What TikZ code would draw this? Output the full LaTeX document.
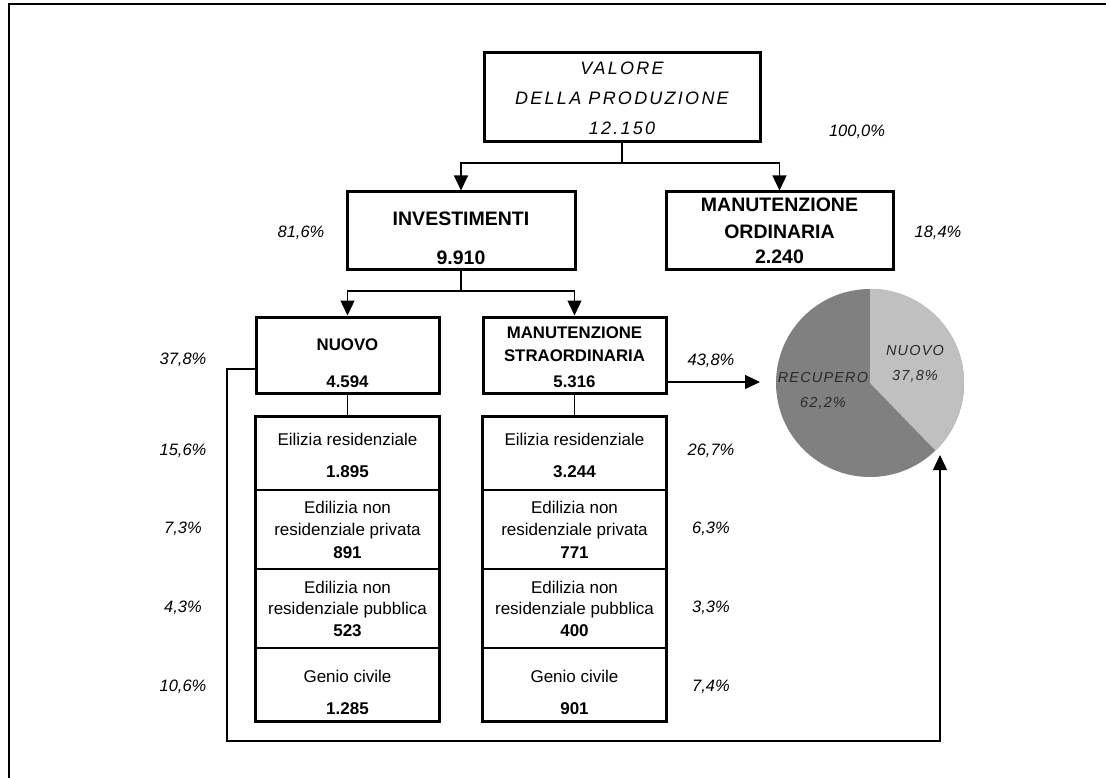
\documentclass[tikz,border=0pt]{standalone}
\usepackage{fontspec}
\setmainfont{Liberation Sans}
\newfontfamily\valfont[LetterSpace=12.5]{Liberation Sans}
\newfontfamily\piefont[LetterSpace=8]{Liberation Sans}
\usetikzlibrary{arrows.meta,calc}
\definecolor{pielight}{HTML}{C0C0C0}
\definecolor{piedark}{HTML}{808080}
\definecolor{pietext}{HTML}{2A2A2A}
\begin{document}
\begin{tikzpicture}[x=1pt,y=-1pt,
  bigbox/.style={draw, line width=3pt, inner sep=0pt},
  rowbox/.style={draw, line width=1.3pt, inner sep=0pt, minimum width=183pt},
  conn/.style={line width=1.3pt},
  arr/.style={conn, -{Triangle[length=15pt,width=14pt]}},
  txt/.style={inner sep=0pt, anchor=base},
  pct/.style={txt, font=\fontsize{16.5}{19}\selectfont\itshape},
  boldA/.style={txt, font=\fontsize{19.5}{22}\selectfont\bfseries},
  boldB/.style={txt, font=\fontsize{16.8}{20}\selectfont\bfseries},
  reg/.style={txt, font=\fontsize{17}{20}\selectfont},
  regb/.style={txt, font=\fontsize{17}{20}\selectfont\bfseries},
  valt/.style={txt, font=\valfont\fontsize{18}{21}\selectfont\itshape},
  piet/.style={txt, text=pietext, font=\piefont\fontsize{14.5}{17}\selectfont\itshape}
]
\fill[white] (0,0) rectangle (1106,778);
\useasboundingbox (0,0) rectangle (1106,778);

% frame
\draw[line width=2pt] (9,790) -- (9,4) -- (1120,4);

% main boxes
\node[bigbox, minimum width=276pt, minimum height=89pt] (val) at (622,97.5) {};
\node[bigbox, minimum width=228pt, minimum height=78pt] (inv) at (461,231) {};
\node[bigbox, minimum width=227pt, minimum height=78pt] (mo) at (779.5,231) {};
\node[bigbox, minimum width=183pt, minimum height=76pt] (nuo) at (347.5,355) {};
\node[bigbox, minimum width=183pt, minimum height=76pt] (ms) at (574.5,355) {};

% row boxes
\node[rowbox, minimum height=73pt] (nl1) at (347.5,453.5) {};
\node[rowbox, minimum height=79pt] (nl2) at (347.5,529.5) {};
\node[rowbox, minimum height=79pt] (nl3) at (347.5,608.5) {};
\node[rowbox, minimum height=73pt] (nl4) at (347.5,684.5) {};
\node[rowbox, minimum height=73pt] (nr1) at (574.5,453.5) {};
\node[rowbox, minimum height=79pt] (nr2) at (574.5,529.5) {};
\node[rowbox, minimum height=79pt] (nr3) at (574.5,608.5) {};
\node[rowbox, minimum height=73pt] (nr4) at (574.5,684.5) {};
\draw[line width=3pt] (nl1.north west) rectangle (nl4.south east);
\draw[line width=3pt] (nr1.north west) rectangle (nr4.south east);

% pie
\node[circle, fill=piedark, minimum size=188pt, inner sep=0pt] (pie) at (870,383) {};
\fill[pielight] (pie.center) -- (pie.north) arc[start angle=-90, end angle=46, radius=94] -- cycle;

% connectors
\coordinate (vj) at (622,163);
\draw[conn] (val.south) -- (vj);
\draw[arr] (vj) -| (inv.north);
\draw[arr] (vj) -| (mo.north);
\coordinate (ij) at (461,291);
\draw[conn] (inv.south) -- (ij);
\draw[arr] (ij) -| (nuo.north);
\draw[arr] (ij) -| (ms.north);
\draw[conn] (nuo.south) -- (nl1.north);
\draw[conn] (ms.south) -- (nr1.north);
\coordinate (msa) at (666,382);
\coordinate (piel) at (760,382);
\draw[arr] (msa) -- (piel);
\coordinate (nuol) at (256,369);
\coordinate (lpa) at (227,369);
\coordinate (lpb) at (227,741);
\coordinate (lpc) at (940,741);
\coordinate (pieb) at (940,455);
\draw[arr] (nuol) -- (lpa) -- (lpb) -- (lpc) -- (pieb);

% texts
\node[valt] (val-a) at (622,74.8) {VALORE};
\node[valt] (val-b) at (622,104.8) {DELLA PRODUZIONE};
\node[valt] (val-c) at (622,134.8) {12.150};
\node[pct] (p-tot) at (857,136.9) {100,0\%};

\node[boldA] (inv-a) at (461,225.3) {INVESTIMENTI};
\node[boldA] (inv-b) at (461,264.3) {9.910};
\node[pct] (p-inv) at (301,237.6) {81,6\%};

\node[boldA] (mo-a) at (779.5,212) {MANUTENZIONE};
\node[boldA] (mo-b) at (779.5,238.7) {ORDINARIA};
\node[boldA] (mo-c) at (779.5,263.7) {2.240};
\node[pct] (p-mo) at (938,237.9) {18,4\%};

\node[boldB] (nuo-a) at (347.5,350.3) {NUOVO};
\node[boldB] (nuo-b) at (347.5,387.7) {4.594};
\node[pct] (p-nuo) at (183,364.9) {37,8\%};

\node[boldB] (ms-a) at (574.5,338.7) {MANUTENZIONE};
\node[boldB] (ms-b) at (574.5,361) {STRAORDINARIA};
\node[boldB] (ms-c) at (574.5,387.7) {5.316};
\node[pct] (p-ms) at (711,365.9) {43,8\%};

% left rows
\node[reg] (nl1-a) at (347.5,445.1) {Eilizia residenziale};
\node[regb] (nl1-b) at (347.5,477.8) {1.895};
\node[reg] (nl2-a) at (347.5,513.1) {Edilizia non};
\node[reg] (nl2-b) at (347.5,535.1) {residenziale privata};
\node[regb] (nl2-c) at (347.5,558.1) {891};
\node[reg] (nl3-a) at (347.5,593.1) {Edilizia non};
\node[reg] (nl3-b) at (347.5,614.1) {residenziale pubblica};
\node[regb] (nl3-c) at (347.5,636.1) {523};
\node[reg] (nl4-a) at (347.5,682.1) {Genio civile};
\node[regb] (nl4-b) at (347.5,714.1) {1.285};

% right rows
\node[reg] (nr1-a) at (574.5,445.1) {Eilizia residenziale};
\node[regb] (nr1-b) at (574.5,477.8) {3.244};
\node[reg] (nr2-a) at (574.5,513.1) {Edilizia non};
\node[reg] (nr2-b) at (574.5,535.1) {residenziale privata};
\node[regb] (nr2-c) at (574.5,558.1) {771};
\node[reg] (nr3-a) at (574.5,593.1) {Edilizia non};
\node[reg] (nr3-b) at (574.5,614.1) {residenziale pubblica};
\node[regb] (nr3-c) at (574.5,636.1) {400};
\node[reg] (nr4-a) at (574.5,682.1) {Genio civile};
\node[regb] (nr4-b) at (574.5,714.1) {901};

% row percentages
\node[pct] (pl1) at (183,455.9) {15,6\%};
\node[pct] (pl2) at (183,533.9) {7,3\%};
\node[pct] (pl3) at (183,612.9) {4,3\%};
\node[pct] (pl4) at (183,691.9) {10,6\%};
\node[pct] (pr1) at (711,455.9) {26,7\%};
\node[pct] (pr2) at (711,533.9) {6,3\%};
\node[pct] (pr3) at (711,612.9) {3,3\%};
\node[pct] (pr4) at (711,691.9) {7,4\%};

% pie labels
\node[piet] (pie-n1) at (915,355.2) {NUOVO};
\node[piet] (pie-n2) at (915,380.2) {37,8\%};
\node[piet] (pie-r1) at (823,382.9) {RECUPERO};
\node[piet] (pie-r2) at (823,407.9) {62,2\%};
\end{tikzpicture}
\end{document}
